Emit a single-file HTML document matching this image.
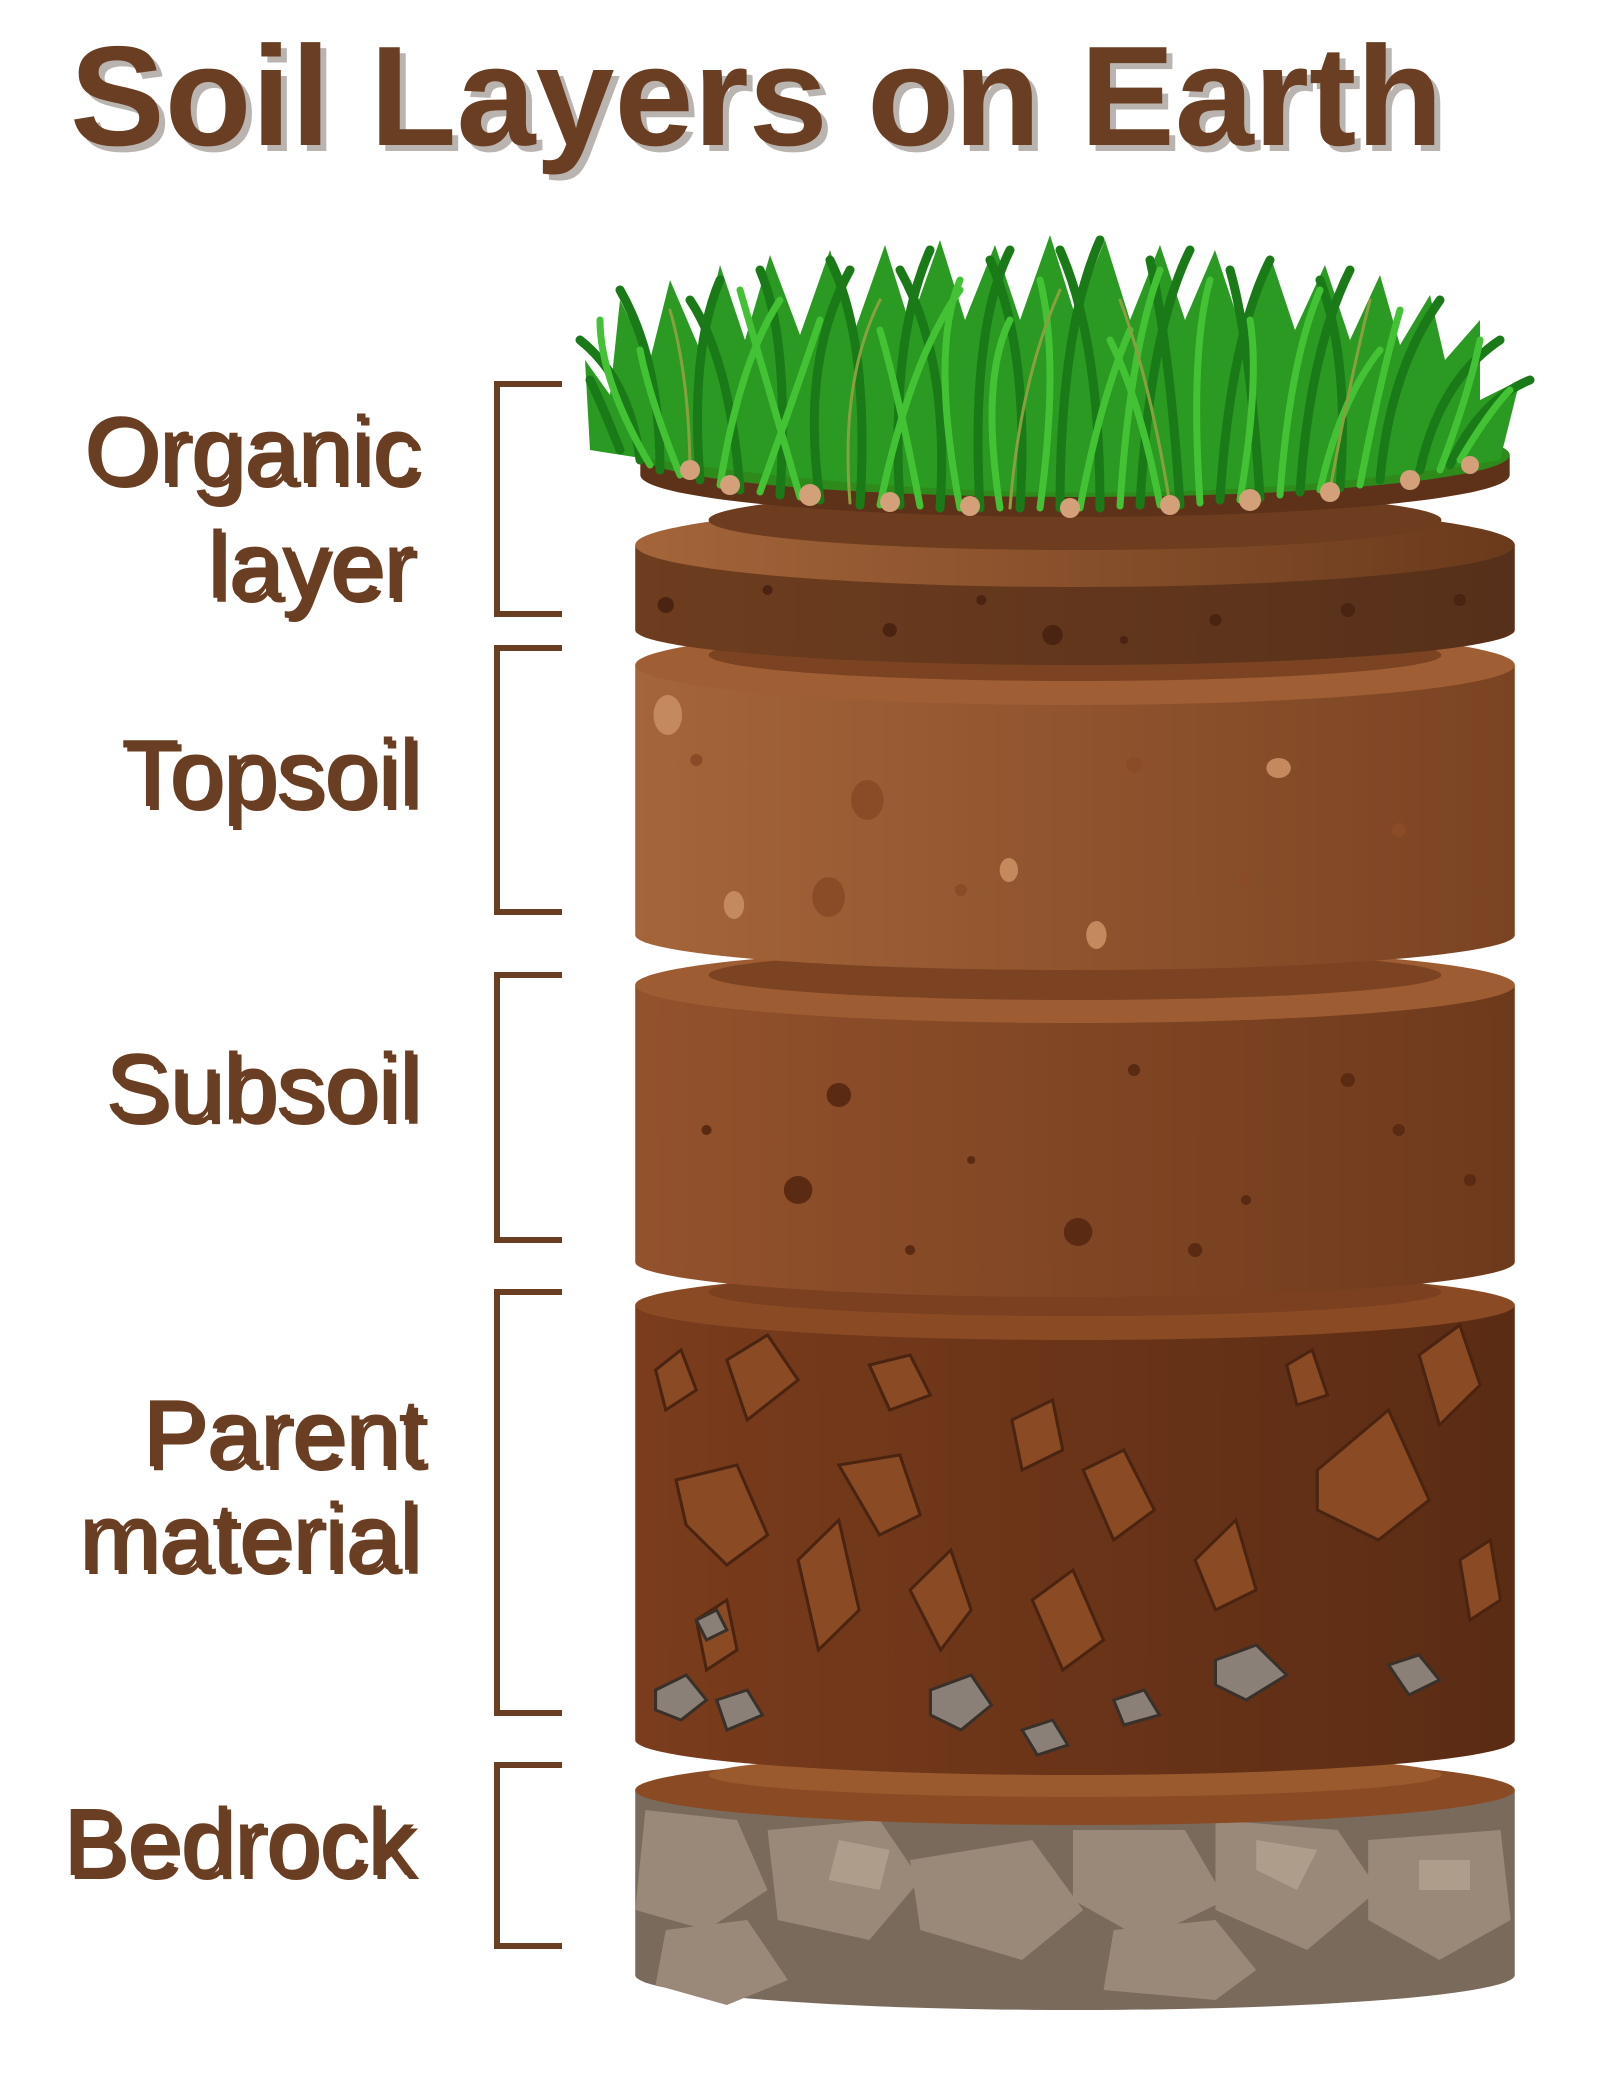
<!DOCTYPE html>
<html><head><meta charset="utf-8"><style>
html,body{margin:0;padding:0;background:#fff;width:1600px;height:2079px;overflow:hidden}
svg{display:block}
text{font-family:"Liberation Sans",sans-serif;fill:#6a3e22}
</style></head><body>
<svg width="1600" height="2079" viewBox="0 0 1600 2079" xmlns="http://www.w3.org/2000/svg">
<defs>
<linearGradient id="gTop" x1="0" x2="1"><stop offset="0" stop-color="#a5653a"/><stop offset="1" stop-color="#7a4322"/></linearGradient>
<linearGradient id="gSub" x1="0" x2="1"><stop offset="0" stop-color="#93522c"/><stop offset="1" stop-color="#6e3a1c"/></linearGradient>
<linearGradient id="gPar" x1="0" x2="1"><stop offset="0" stop-color="#7a3c1c"/><stop offset="1" stop-color="#5a2c14"/></linearGradient>
<linearGradient id="gOrg" x1="0" x2="1"><stop offset="0" stop-color="#6e3d1f"/><stop offset="1" stop-color="#56301a"/></linearGradient>
<linearGradient id="gRing" x1="0" x2="1"><stop offset="0" stop-color="#a4653a"/><stop offset="1" stop-color="#6a3a1c"/></linearGradient>
</defs>

<text x="70" y="145" font-size="142" font-weight="bold" style="fill:#b9b4b0" transform="translate(6,6)">Soil Layers on Earth</text>
<text x="70" y="145" font-size="142" font-weight="bold">Soil Layers on Earth</text>

<g font-size="96" text-anchor="end">
<g style="fill:#c0bbb7" transform="translate(4,4)">
<text x="420" y="483">Organic</text><text x="415" y="598">layer</text>
<text x="420" y="806">Topsoil</text><text x="420" y="1120">Subsoil</text>
<text x="425" y="1466">Parent</text><text x="420" y="1570">material</text>
<text x="415" y="1875">Bedrock</text></g>
<text x="420" y="483">Organic</text><text x="415" y="598">layer</text>
<text x="420" y="806">Topsoil</text><text x="420" y="1120">Subsoil</text>
<text x="425" y="1466">Parent</text><text x="420" y="1570">material</text>
<text x="415" y="1875">Bedrock</text>
</g>

<g fill="none" stroke="#6a3e22" stroke-width="6">
<path d="M562 384H497V614H562"/>
<path d="M562 648H497V912H562"/>
<path d="M562 975H497V1240H562"/>
<path d="M562 1292H497V1713H562"/>
<path d="M562 1765H497V1946H562"/>
</g>

<g transform="translate(1075,0) scale(1.018,1) translate(-1062,0)">
<!-- Bedrock -->
<path d="M630 1790 V1975 A432 35 0 0 0 1494 1975 V1790Z" fill="#7a6a5c"/>
<g fill="#9a8878">
<path d="M640 1810l90 10 30 70-60 40-70-20z"/><path d="M760 1830l110-10 40 60-50 60-90-20z"/>
<path d="M900 1860l120-20 50 70-60 50-100-30z"/><path d="M1060 1830l110 0 40 70-80 40-70-40z"/>
<path d="M1200 1820l120 10 40 60-70 60-90-40z"/><path d="M1350 1840l130-10 10 90-70 40-70-40z"/>
<path d="M660 1930l80-10 40 60-60 25-70-20z"/><path d="M1100 1930l100-10 40 50-40 30-110-10z"/>
</g>
<g fill="#b4a290" opacity=".8"><path d="M830 1840l50 10-10 40-50-10z"/><path d="M1240 1840l60 10-20 40-40-20z"/><path d="M1400 1860l50 0 0 30-50 0z"/></g>
<ellipse cx="1062" cy="1790" rx="432" ry="35" fill="#8a4a24"/>
<ellipse cx="1062" cy="1775" rx="360" ry="22" fill="#9a5a2e"/>

<!-- Parent -->
<path d="M630 1305 V1740 A432 35 0 0 0 1494 1740 V1305Z" fill="url(#gPar)"/>
<g fill="#8a4a24" stroke="#4a2410" stroke-width="3">
<path d="M720 1360l40-25 30 45-50 40z"/><path d="M650 1370l25-20 15 40-30 20z"/>
<path d="M860 1365l40-10 20 40-40 15z"/><path d="M1000 1420l40-20 10 50-40 20z"/>
<path d="M1400 1355l40-30 20 60-40 40z"/><path d="M1270 1365l25-15 15 45-30 10z"/>
<path d="M670 1480l60-15 30 70-40 30-40-40z"/><path d="M830 1465l60-10 20 60-40 20z"/>
<path d="M1070 1470l40-20 30 60-40 30z"/><path d="M1300 1470l70-60 40 90-50 40-60-30z"/>
<path d="M790 1560l40-40 20 90-40 40z"/><path d="M900 1590l40-40 20 60-30 40z"/>
<path d="M1180 1560l40-40 20 70-40 20z"/><path d="M1440 1560l30-20 10 60-30 20z"/>
<path d="M1020 1600l40-30 30 70-40 30z"/><path d="M690 1620l30-20 10 50-30 20z"/>
</g>
<g fill="#8a8078" stroke="#3a302a" stroke-width="3">
<path d="M650 1690l30-15 20 25-25 20-25-10z"/><path d="M710 1700l30-10 15 25-35 15z"/>
<path d="M920 1690l40-15 20 30-30 25-30-15z"/><path d="M1200 1660l40-15 30 30-40 25-30-15z"/>
<path d="M1370 1665l30-10 20 25-30 15z"/><path d="M1010 1730l30-10 15 25-30 10z"/>
<path d="M1100 1700l30-10 15 25-35 10z"/><path d="M690 1620l20-10 10 20-20 10z"/>
</g>
<ellipse cx="1062" cy="1305" rx="432" ry="35" fill="#8a4a24"/>
<ellipse cx="1062" cy="1292" rx="360" ry="24" fill="#7a4020"/>

<!-- Subsoil -->
<path d="M630 985 V1262 A432 35 0 0 0 1494 1262 V985Z" fill="url(#gSub)"/>
<g fill="#5a2a12"><circle cx="830" cy="1095" r="12"/><circle cx="790" cy="1190" r="14"/><circle cx="1065" cy="1232" r="14"/><circle cx="1120" cy="1070" r="6"/><circle cx="700" cy="1130" r="5"/><circle cx="1380" cy="1130" r="6"/><circle cx="1230" cy="1200" r="5"/><circle cx="900" cy="1250" r="5"/><circle cx="1330" cy="1080" r="7"/><circle cx="1450" cy="1180" r="6"/><circle cx="960" cy="1160" r="4"/><circle cx="1180" cy="1250" r="7"/></g>
<ellipse cx="1062" cy="985" rx="432" ry="38" fill="#9e5c32"/>
<ellipse cx="1062" cy="975" rx="360" ry="25" fill="#7c4322"/>

<!-- Topsoil -->
<path d="M630 665 V935 A432 35 0 0 0 1494 935 V665Z" fill="url(#gTop)"/>
<g fill="#8a4c26"><ellipse cx="858" cy="800" rx="16" ry="20"/><ellipse cx="820" cy="897" rx="16" ry="20"/><circle cx="1120" cy="765" r="8"/><circle cx="950" cy="890" r="6"/><circle cx="1380" cy="830" r="7"/><circle cx="1230" cy="880" r="6"/><circle cx="690" cy="760" r="6"/></g>
<g fill="#c48a5e"><ellipse cx="662" cy="715" rx="14" ry="20"/><ellipse cx="1262" cy="768" rx="12" ry="10"/><ellipse cx="727" cy="905" rx="10" ry="14"/><ellipse cx="997" cy="870" rx="9" ry="12"/><ellipse cx="1083" cy="935" rx="10" ry="14"/></g>
<ellipse cx="1062" cy="665" rx="432" ry="40" fill="#a05e34"/>
<ellipse cx="1062" cy="655" rx="360" ry="26" fill="#7c4322"/>

<!-- Organic -->
<path d="M630 545 V630 A432 35 0 0 0 1494 630 V545Z" fill="url(#gOrg)"/>
<g fill="#4a2410"><circle cx="660" cy="605" r="8"/><circle cx="880" cy="630" r="7"/><circle cx="1040" cy="635" r="10"/><circle cx="760" cy="590" r="5"/><circle cx="1200" cy="620" r="6"/><circle cx="1330" cy="610" r="7"/><circle cx="1440" cy="600" r="6"/><circle cx="970" cy="600" r="5"/><circle cx="1110" cy="640" r="4"/></g>
<ellipse cx="1062" cy="545" rx="432" ry="42" fill="url(#gRing)"/>
<ellipse cx="1062" cy="520" rx="360" ry="30" fill="#6e3c1e"/>
<path d="M635 455 V475 A427 42 0 0 0 1489 475 V455Z" fill="#5e3218"/>
<ellipse cx="1062" cy="455" rx="427" ry="42" fill="#2f8a1c"/>
</g>

<!-- Grass mass -->
<path d="M590 450 L585 360 L610 395 L620 300 L650 360 L670 280 L700 350 L720 265 L745 340 L770 255 L800 335 L830 250 L855 330 L885 245 L910 325 L940 240 L965 320 L995 245 L1020 320 L1050 235 L1075 315 L1105 240 L1130 320 L1160 245 L1185 320 L1215 250 L1240 325 L1270 255 L1295 330 L1325 265 L1350 340 L1380 275 L1400 345 L1430 295 L1445 360 L1480 320 L1480 400 L1520 380 L1500 460 Q1080 530 590 450Z" fill="#2a9a22"/>
<g stroke-linecap="round" fill="none">
<g stroke="#1a7a18" stroke-width="9">
<path d="M640 460Q630 380 580 340"/><path d="M660 470Q660 360 620 290"/><path d="M700 480Q690 350 720 280"/>
<path d="M740 490Q730 360 690 300"/><path d="M780 495Q790 340 760 270"/><path d="M820 500Q800 360 850 270"/>
<path d="M860 505Q870 340 830 260"/><path d="M900 505Q890 340 930 250"/><path d="M940 508Q950 360 900 270"/>
<path d="M980 508Q970 330 1010 250"/><path d="M1020 508Q1030 350 990 260"/><path d="M1060 508Q1060 330 1100 240"/>
<path d="M1100 508Q1100 340 1060 250"/><path d="M1140 505Q1150 330 1190 250"/><path d="M1180 505Q1170 350 1150 260"/>
<path d="M1220 500Q1230 340 1270 260"/><path d="M1260 498Q1250 340 1230 270"/><path d="M1300 492Q1310 350 1350 270"/>
<path d="M1340 488Q1350 360 1320 280"/><path d="M1380 480Q1390 370 1440 300"/><path d="M1420 470Q1440 380 1500 340"/>
<path d="M1450 465Q1480 400 1530 380"/><path d="M620 450Q600 400 590 380"/>
</g>
<g stroke="#44c235" stroke-width="7">
<path d="M650 465Q600 380 600 320"/><path d="M720 485Q740 360 780 300"/><path d="M800 497Q760 360 740 290"/>
<path d="M880 505Q910 360 960 290"/><path d="M960 508Q930 350 960 280"/><path d="M1040 508Q1060 360 1040 280"/>
<path d="M1120 506Q1130 350 1160 270"/><path d="M1200 503Q1190 350 1210 280"/><path d="M1280 495Q1290 360 1320 290"/>
<path d="M1360 485Q1380 380 1400 310"/><path d="M1440 470Q1470 390 1480 340"/><path d="M760 492Q800 380 820 320"/>
<path d="M1000 508Q980 380 1010 320"/><path d="M1240 500Q1260 380 1250 320"/>
<path d="M680 475Q650 400 640 350"/><path d="M920 506Q900 400 880 330"/><path d="M1080 508Q1100 400 1130 330"/>
<path d="M1160 505Q1140 400 1110 340"/><path d="M1320 490Q1340 400 1380 350"/><path d="M1460 460Q1490 410 1510 390"/>
</g>
<g stroke="#8aa040" stroke-width="3">
<path d="M690 478Q690 380 670 310"/><path d="M850 503Q840 380 880 300"/><path d="M1010 508Q1020 380 1060 290"/>
<path d="M1170 505Q1150 380 1120 300"/><path d="M1330 490Q1350 380 1370 300"/>
</g>
</g>
<g fill="#d4a07a"><circle cx="690" cy="470" r="10"/><circle cx="730" cy="485" r="10"/><circle cx="810" cy="495" r="11"/><circle cx="890" cy="502" r="10"/><circle cx="970" cy="506" r="10"/><circle cx="1070" cy="508" r="10"/><circle cx="1170" cy="505" r="10"/><circle cx="1250" cy="500" r="11"/><circle cx="1330" cy="492" r="10"/><circle cx="1410" cy="480" r="10"/><circle cx="1470" cy="465" r="9"/></g>
</svg>
</body></html>
